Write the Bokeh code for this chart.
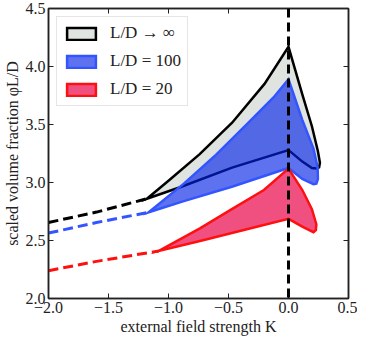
from bokeh.plotting import figure
from bokeh.models import LinearAxis, FixedTicker, CustomJSTickFormatter, Span, Range1d
from bokeh.embed import file_html
from bokeh.resources import INLINE

# ---------------- data ----------------
x_ticks = [-2.0, -1.5, -1.0, -0.5, 0.0, 0.5]
y_ticks = [2.0, 2.5, 3.0, 3.5, 4.0, 4.5]

# L/D -> infinity
inf_dash_K = [-2.0, -1.6, -1.18]
inf_dash_phi = [2.655, 2.745, 2.86]
inf_K = [-1.18, -1.0, -0.74, -0.47, -0.2, 0.0,
         0.115, 0.195, 0.245, 0.262, 0.255, 0.235, 0.195, 0.115,
         0.0, -0.47, -0.91]
inf_phi = [2.86, 3.015, 3.245, 3.515, 3.85, 4.17,
           3.76, 3.485, 3.27, 3.17, 3.13, 3.12, 3.125, 3.18,
           3.279, 3.128, 2.957]

# L/D = 100
d100_dash_K = [-2.0, -1.6, -1.165]
d100_dash_phi = [2.564, 2.655, 2.743]
d100_K = [-1.165, -0.872, -0.605, -0.338, -0.125, 0.0,
          0.115, 0.208, 0.243, 0.245, 0.232, 0.208, 0.115,
          0.0, -0.472, -0.872]
d100_phi = [2.743, 2.99, 3.238, 3.512, 3.733, 3.89,
            3.54, 3.293, 3.128, 3.03, 2.99, 2.985, 3.031,
            3.125, 2.963, 2.839]

# L/D = 20
d20_dash_K = [-2.0, -1.6, -1.08]
d20_dash_phi = [2.24, 2.32, 2.41]
d20_K = [-1.08, -0.738, -0.472, -0.205, 0.0,
         0.115, 0.195, 0.232, 0.228, 0.208, 0.115,
         0.0, -0.472, -0.738]
d20_phi = [2.41, 2.605, 2.77, 2.935, 3.12,
           2.935, 2.77, 2.64, 2.59, 2.572, 2.619,
           2.687, 2.564, 2.495]

FONT = "Liberation Serif"

p = figure(width=357, height=337, output_backend="svg", toolbar_location=None,
           x_range=Range1d(-2.0, 0.5), y_range=Range1d(2.0, 4.5),
           min_border_left=41, min_border_right=9, min_border_top=8, min_border_bottom=30)
p.background_fill_color = "white"
p.border_fill_color = "white"
p.grid.visible = False
p.outline_line_color = "#222222"
p.outline_line_width = 1.5

fmt = CustomJSTickFormatter(code="return tick.toFixed(1).replace('-', '\u2212');")
blank = CustomJSTickFormatter(code="return '';")

for ax in [p.xaxis[0], p.yaxis[0]]:
    ax.major_label_text_font = FONT
    ax.major_label_text_font_size = "16px"
    ax.major_label_text_color = "#222222"
    ax.axis_label_text_font = FONT
    ax.axis_label_text_font_size = "16px"
    ax.axis_label_text_font_style = "normal"
    ax.axis_label_text_color = "#222222"
    ax.major_tick_in = 5
    ax.major_tick_out = 0
    ax.minor_tick_in = 0
    ax.minor_tick_out = 0
    ax.axis_line_color = "#222222"
    ax.axis_line_width = 1.5
    ax.major_tick_line_color = "#222222"
    ax.major_label_standoff = 3
    ax.axis_label_standoff = 2
    ax.formatter = fmt

p.xaxis[0].ticker = FixedTicker(ticks=x_ticks)
p.yaxis[0].ticker = FixedTicker(ticks=y_ticks)
p.xaxis[0].axis_label = "external field strength K"
p.yaxis[0].axis_label = "scaled volume fraction \u03c6L/D"

for loc, tk in [("above", x_ticks), ("right", y_ticks)]:
    ax = LinearAxis(ticker=FixedTicker(ticks=tk), formatter=blank,
                    major_label_text_font_size="1px",
                    major_tick_in=5, major_tick_out=0, minor_tick_in=0, minor_tick_out=0,
                    axis_line_color="#222222", axis_line_width=1.5,
                    major_tick_line_color="#222222", major_label_standoff=0)
    p.add_layout(ax, loc)

# black
p.line(inf_dash_K, inf_dash_phi, line_color="black", line_width=3, line_dash="10 5")
p.patch(inf_K, inf_phi, fill_color="#e0e4e0", line_color="black", line_width=2.5,
        line_join="miter", legend_label="L/D \u2192 \u221e")
# blue
p.line(d100_dash_K, d100_dash_phi, line_color="#3355ff", line_width=3, line_dash="10 5")
p.patch(d100_K, d100_phi, fill_color="#0020e8", fill_alpha=0.63, line_color="#3355ff",
        line_width=2.5, line_join="miter", legend_label="L/D = 100")
# red
p.line(d20_dash_K, d20_dash_phi, line_color="#ff1010", line_width=3, line_dash="10 5")
p.patch(d20_K, d20_phi, fill_color="#f0507f", line_color="#ff1010", line_width=2.5,
        line_join="miter", legend_label="L/D = 20")

p.add_layout(Span(location=0.0, dimension="height", line_color="black",
                  line_width=3, line_dash="9 5"))

lg = p.legend[0]
lg.location = "top_left"
lg.margin = 8
lg.padding = 6
lg.spacing = 8
lg.glyph_width = 36
lg.glyph_height = 15
lg.label_standoff = 11
lg.label_text_font = FONT
lg.label_text_font_size = "17px"
lg.label_text_color = "#222222"
lg.border_line_color = "#cccccc"
lg.border_line_width = 1
lg.background_fill_alpha = 0.8

open("out.html", "w").write(file_html(p, INLINE))
